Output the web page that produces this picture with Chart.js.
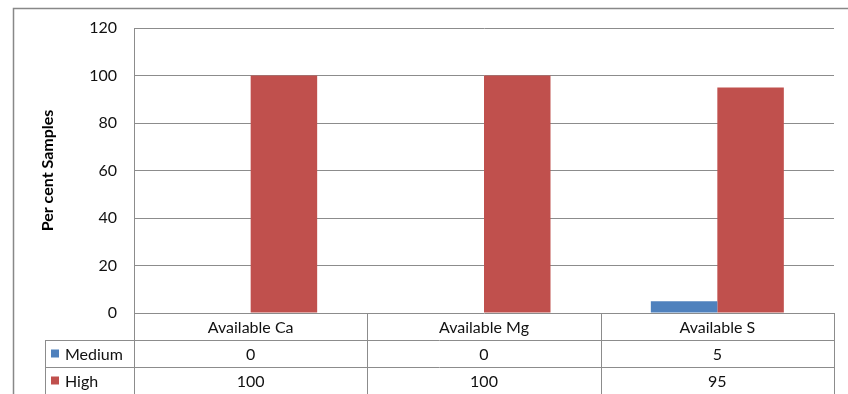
<!DOCTYPE html>
<html>
<head>
<meta charset="utf-8">
<script src="https://cdn.jsdelivr.net/npm/chart.js@4"></script>
<style>
  body { margin: 0; background: #fff; }
  #wrap { width: 848px; height: 394px; }
</style>
</head>
<body>
<div id="wrap"><canvas id="samples-chart"></canvas></div>
<script>
const categories = ['Available Ca', 'Available Mg', 'Available S'];
const seriesNames = ['Medium', 'High'];
const mediumValues = [0, 0, 5];
const highValues = [100, 100, 95];
const yTicks = [0, 20, 40, 60, 80, 100, 120];

const BLUE = '#4f81bd';
const RED = '#c0504d';
const LINE = '#8c8c8c';
const FONT = 'Lato, "Open Sans", sans-serif';

// outer frame of the chart object
const framePlugin = {
    id: 'frame',
    beforeDraw(chart) {
        const ctx = chart.ctx;
        ctx.save();
        ctx.strokeStyle = '#888';
        ctx.lineWidth = 1.5;
        ctx.beginPath();
        ctx.moveTo(13.5, chart.height + 2);
        ctx.lineTo(13.5, 8.5);
        ctx.lineTo(chart.width + 2, 8.5);
        ctx.stroke();
        ctx.restore();
    }
};

// data table under the plot: category row + one row per series
const dataTablePlugin = {
    id: 'dataTable',
    afterDraw(chart) {
        const ctx = chart.ctx;
        const area = chart.chartArea;
        const xScale = chart.scales.x;
        const rowH = 27;
        const keyLeft = 45;
        const colW = (area.right - area.left) / categories.length;
        const rows = [mediumValues, highValues];
        const colors = [BLUE, RED];

        ctx.save();
        ctx.strokeStyle = LINE;
        ctx.lineWidth = 1;

        // horizontal lines
        ctx.beginPath();
        for (let r = 1; r <= rows.length + 1; r++) {
            const y = Math.round(area.bottom + r * rowH) + 0.5;
            ctx.moveTo(keyLeft, y);
            ctx.lineTo(area.right, y);
        }
        // vertical lines
        for (let c = 0; c <= categories.length; c++) {
            const x = Math.round(area.left + c * colW) + 0.5;
            ctx.moveTo(x, area.bottom);
            ctx.lineTo(x, area.bottom + rowH * (rows.length + 1));
        }
        ctx.moveTo(keyLeft + 0.5, area.bottom + rowH);
        ctx.lineTo(keyLeft + 0.5, area.bottom + rowH * (rows.length + 1));
        ctx.stroke();

        ctx.font = '16px ' + FONT;
        ctx.fillStyle = '#111';
        ctx.textAlign = 'center';
        ctx.textBaseline = 'middle';
        categories.forEach((cat, i) => {
            const cx = xScale.getPixelForValue(i);
            ctx.fillText(cat, cx, area.bottom + rowH / 2 + 1);
            rows.forEach((vals, r) => {
                ctx.fillText(String(vals[i]), cx, area.bottom + rowH * (r + 1.5) + 1);
            });
        });

        // series keys
        ctx.textAlign = 'left';
        seriesNames.forEach((name, r) => {
            const cy = area.bottom + rowH * (r + 1.5);
            ctx.fillStyle = colors[r];
            ctx.fillRect(51, cy - 4, 8, 8);
            ctx.fillStyle = '#111';
            ctx.fillText(name, 65, cy + 1);
        });
        ctx.restore();
    }
};

new Chart(document.getElementById('samples-chart'), {
    type: 'bar',
    data: {
        labels: categories,
        datasets: [
            { label: seriesNames[0], data: mediumValues, backgroundColor: BLUE },
            { label: seriesNames[1], data: highValues, backgroundColor: RED }
        ]
    },
    options: {
        responsive: true,
        maintainAspectRatio: false,
        animation: false,
        categoryPercentage: 0.57,
        barPercentage: 1,
        layout: { padding: { left: 13, top: 28, right: 14, bottom: 81 } },
        plugins: { legend: { display: false }, tooltip: { enabled: false } },
        scales: {
            x: { display: false },
            y: {
                min: 0,
                max: 120,
                afterFit(scale) { scale.width = 121; },
                afterBuildTicks(scale) { scale.ticks = yTicks.map(v => ({ value: v })); },
                ticks: { color: '#111', padding: 17, font: { family: FONT, size: 16 } },
                grid: { color: LINE, drawTicks: false },
                border: { display: true, color: LINE },
                title: {
                    display: true,
                    text: 'Per cent Samples',
                    color: '#000',
                    font: { family: FONT, size: 16, weight: 'bold' },
                    padding: { top: 25, bottom: 0 }
                }
            }
        }
    },
    plugins: [framePlugin, dataTablePlugin]
});
</script>
</body>
</html>
